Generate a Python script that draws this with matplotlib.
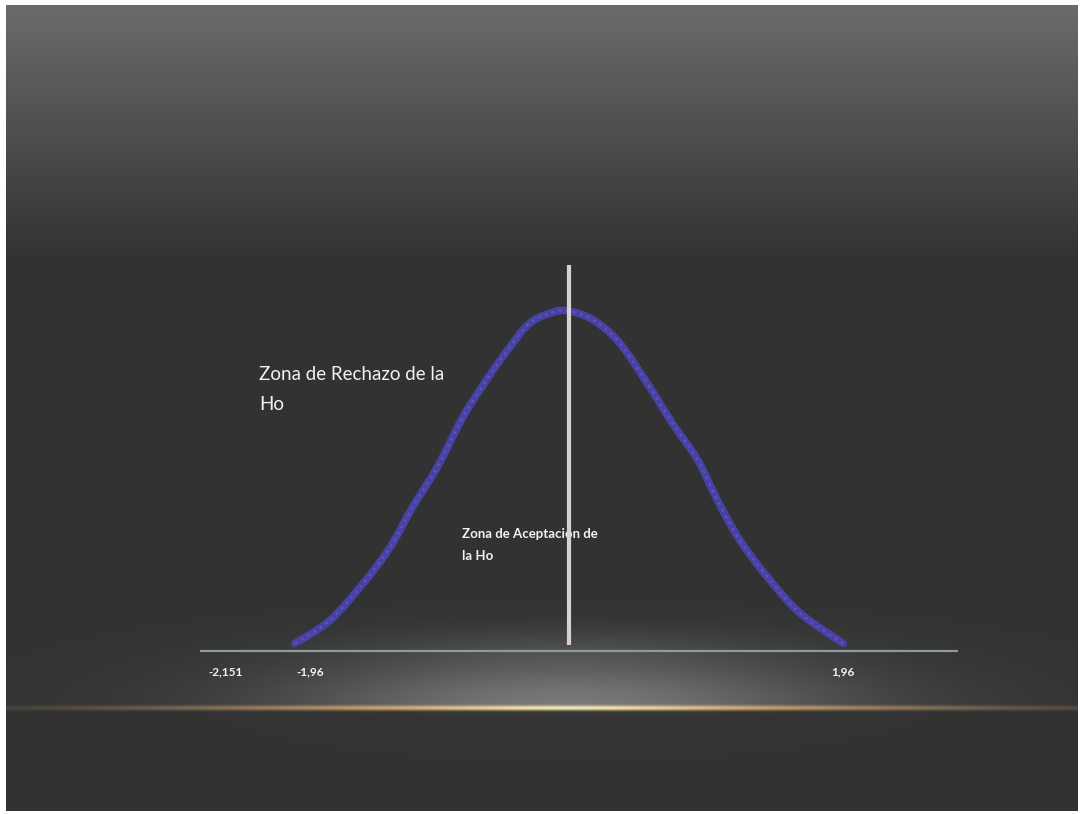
import numpy as np
import matplotlib
matplotlib.use('Agg')
import matplotlib.pyplot as plt
from matplotlib.path import Path
from matplotlib.patches import PathPatch

# Curve: z position and height (density scale)
curve_z = [-1.96, -1.71, -1.47, -1.28, -1.12, -0.94, -0.76, -0.59, -0.44, -0.28, -0.11,
           0.0, 0.17, 0.36, 0.56, 0.74, 0.92, 1.06, 1.22, 1.42, 1.65, 1.96]
curve_y = [0.009, 0.036, 0.080, 0.122, 0.169, 0.217, 0.275, 0.319, 0.354, 0.386, 0.399,
           0.400, 0.390, 0.363, 0.315, 0.268, 0.225, 0.178, 0.131, 0.087, 0.045, 0.009]

tick_values = [-2.151, -1.96, 1.96]
tick_labels = ['-2,151', '-1,96', '1,96']

axis_range = [-2.64, 2.78]
center_line = [0.007, 0.454]

reject_text = 'Zona de Rechazo de la\nHo'
accept_text = 'Zona de Aceptación de\nla Ho'

W, H = 1083, 814
PX = 139.8          # pixels per z unit
CX, AY = 569, 651   # pixel of z=0 and of the axis line
YPP = 0.399 / 339   # density units per pixel


def smooth_path(xv, yv):
    # catmull-rom through the read points, drawn as cubic bezier segments
    pts = np.column_stack([xv, yv])
    verts = [pts[0]]
    codes = [Path.MOVETO]
    n = len(pts)
    for i in range(n - 1):
        p0 = pts[max(i - 1, 0)]
        p1 = pts[i]
        p2 = pts[i + 1]
        p3 = pts[min(i + 2, n - 1)]
        c1 = p1 + (p2 - p0) / 6.0
        c2 = p2 - (p3 - p1) / 6.0
        verts += [c1, c2, p2]
        codes += [Path.CURVE4] * 3
    return Path(verts, codes)


fig = plt.figure(figsize=(W / 100, H / 100), dpi=100, facecolor='white')

# background slide: gradient, glow and golden streak
bg = fig.add_axes([0, 0, 1, 1])
bg.set_xlim(0, W)
bg.set_ylim(H, 0)
bg.axis('off')

x0, x1, y0, y1 = 6, 1078, 5, 811
xs = np.arange(x0, x1) + 0.5
ys = np.arange(y0, y1) + 0.5
X, Y = np.meshgrid(xs, ys)

base = np.where(Y < 255, 0.42 - (Y - 5) * 0.00088, 0.198)
img = np.dstack([base, base, base])

# soft light between axis and streak
gl = np.exp(-((X - CX) / 280.0) ** 2) * np.exp(-((Y - 703) / 45.0) ** 2)
gl = np.where(Y < 707, gl, gl * 0.04)
img += 0.27 * gl[..., None]

# faint glow just above the axis
g2 = np.exp(-((X - CX) / 220.0) ** 2) * np.exp(-((Y - 648) / 22.0) ** 2) * 0.05
img += g2[..., None]

# golden streak
sx = np.exp(-((X - CX) / 360.0) ** 2)
sy = np.exp(-((Y - 708) / 2.3) ** 2)
streak_col = np.array([0.93, 0.68, 0.38])
core_col = np.array([1.0, 0.93, 0.70])
hx = np.exp(-((X - CX) / 140.0) ** 2)
col = streak_col[None, None, :] * (1 - hx[..., None]) + core_col[None, None, :] * hx[..., None]
wide = np.exp(-((X - CX) / 520.0) ** 2) ** 2 * sy * 0.45
img = img * (1 - wide[..., None]) + 0.75 * wide[..., None]
amt = (sx * sy * 0.95)[..., None]
img = img * (1 - amt) + col * amt

img = np.clip(img, 0, 1)
bg.imshow(img, extent=[x0, x1, y1, y0], aspect='auto', interpolation='bilinear', zorder=0)

# chart axes in z / density units
ax = fig.add_axes([0, 0, 1, 1])
ax.patch.set_alpha(0)
ax.set_xlim((0 - CX) / PX, (W - CX) / PX)
ax.set_ylim(-(H - AY) * YPP, AY * YPP)
ax.axis('off')

ax.plot(axis_range, [0, 0], color='#8c9c9a', linewidth=1.6, solid_capstyle='butt', zorder=2)

curve = smooth_path(curve_z, curve_y)
ax.add_patch(PathPatch(curve, facecolor='none', edgecolor='#4842a6', linewidth=5.5,
                       capstyle='round', joinstyle='round', zorder=3))
ax.add_patch(PathPatch(curve, facecolor='none', edgecolor='#7d78c4', linewidth=1.3, alpha=0.45,
                       linestyle=(0, (1.5, 2.5)), zorder=4))

ax.plot([0, 0], center_line, color='#d9d0d0', linewidth=3.0, solid_capstyle='butt', zorder=6)

offsets = {'-2,151': -31, '-1,96': 11, '1,96': 0}
for v, lab in zip(tick_values, tick_labels):
    ax.annotate(lab, xy=(v, 0), xytext=(offsets[lab], -15), textcoords='offset points',
                ha='center', va='center', color='#f4f4f4', fontsize=8.5,
                fontweight='bold', family='Lato', zorder=5)

ax.text((259 - CX) / PX, (AY - 366) * YPP, reject_text, ha='left', va='top',
        color='#f2f2f2', fontsize=13.5, family='Lato', linespacing=1.95, zorder=5)

ax.text((462 - CX) / PX, (AY - 528) * YPP, accept_text, ha='left', va='top',
        color='#f2f2f2', fontsize=9.5, fontweight='bold', family='Lato',
        linespacing=2.05, zorder=5)

fig.savefig('out.png', dpi=100, facecolor='white')
